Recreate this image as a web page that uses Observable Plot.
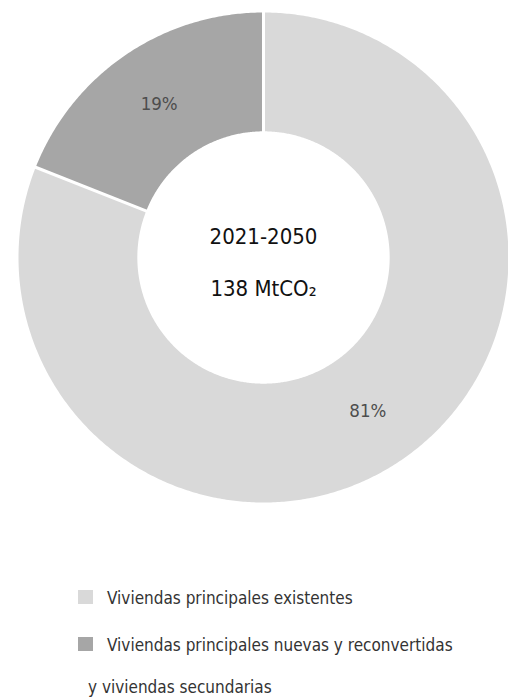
<!DOCTYPE html>
<html>
<head>
<meta charset="utf-8">
<script src="https://cdn.jsdelivr.net/npm/d3@7"></script>
<script src="https://cdn.jsdelivr.net/npm/@observablehq/plot@0.6"></script>
<style>
  html, body { margin: 0; padding: 0; background: #fff; }
  #wrap { position: relative; width: 508px; height: 697px; overflow: hidden;
    font-family: "Liberation Sans Narrow", "Arial Narrow", "DejaVu Sans Condensed", sans-serif; }
  #chart { position: absolute; left: 0; top: 0; }
  .row { position: absolute; font-size: 17px; line-height: 20px; color: #333; white-space: nowrap; }
  .sw { position: absolute; width: 15px; height: 14px; }
</style>
</head>
<body>
<div id="wrap">
  <div id="chart"></div>
  <div id="legend"></div>
</div>
<script>
// ---- data ----
const categories = ["Viviendas principales existentes", "Viviendas principales nuevas y reconvertidas y viviendas secundarias"];
const shares = [81, 19];
const percentLabels = ["81%", "19%"];
const centerLines = ["2021-2050", "138 MtCO₂"];
const colors = ["#d9d9d9", "#a6a6a6"];
const legendLines = ["Viviendas principales existentes", "Viviendas principales nuevas y reconvertidas", "y viviendas secundarias"];

// ---- geometry (computed from data) ----
const inner = 0.515; // ring inner radius relative to outer
const total = d3.sum(shares);
const slices = [];
let acc = 0;
shares.forEach((v, i) => {
  const a0 = acc / total * 2 * Math.PI;
  acc += v;
  const a1 = acc / total * 2 * Math.PI;
  slices.push({cat: categories[i], label: percentLabels[i], a0, a1});
});
const pt = (r, a) => ({x: r * Math.sin(a), y: r * Math.cos(a)});
const poly = [];
for (const s of slices) {
  const n = Math.max(2, Math.ceil((s.a1 - s.a0) / (Math.PI / 360)));
  for (let k = 0; k <= n; k++) poly.push({cat: s.cat, ...pt(1, s.a0 + (s.a1 - s.a0) * k / n)});
  for (let k = n; k >= 0; k--) poly.push({cat: s.cat, ...pt(inner, s.a0 + (s.a1 - s.a0) * k / n)});
}
const seps = slices.map(s => {
  const p = pt(inner - 0.01, s.a0), q = pt(1.02, s.a0);
  return {x1: p.x, y1: p.y, x2: q.x, y2: q.y};
});
const labelPts = slices.map(s => ({label: s.label, ...pt((1 + inner) / 2, (s.a0 + s.a1) / 2)}));

const chart = Plot.plot({
  width: 508,
  height: 520,
  margin: 0,
  x: {domain: [-1, 1], range: [18, 508], axis: null},
  y: {domain: [-1, 1], range: [502, 12], axis: null},
  color: {domain: categories, range: colors},
  style: {fontFamily: '"Liberation Sans Narrow", "Arial Narrow", "DejaVu Sans Condensed", sans-serif', background: "white"},
  marks: [
    Plot.line(poly, {x: "x", y: "y", z: "cat", fill: "cat", stroke: "none", curve: "linear-closed"}),
    Plot.link(seps, {x1: "x1", y1: "y1", x2: "x2", y2: "y2", stroke: "white", strokeWidth: 3}),
    Plot.text(labelPts, {x: "x", y: "y", text: "label", fontSize: 18.5, fill: "#4d4d4d"}),
    Plot.text([centerLines[0]], {x: () => 0, y: () => 0, text: d => d, fontSize: 22, fill: "#111", dy: -21}),
    Plot.text([centerLines[1]], {x: () => 0, y: () => 0, text: d => d, fontSize: 22, fill: "#111", dy: 31})
  ]
});
document.getElementById("chart").appendChild(chart);

// ---- legend (HTML, below the SVG) ----
const legend = document.getElementById("legend");
const rowsSpec = [
  {text: legendLines[0], color: colors[0], top: 588, left: 107},
  {text: legendLines[1], color: colors[1], top: 635, left: 107},
  {text: legendLines[2], color: null, top: 677, left: 88}
];
for (const r of rowsSpec) {
  if (r.color) {
    const sw = document.createElement("div");
    sw.className = "sw";
    sw.style.left = "78px";
    sw.style.top = (r.top + 2) + "px";
    sw.style.background = r.color;
    legend.appendChild(sw);
  }
  const t = document.createElement("div");
  t.className = "row";
  t.style.left = r.left + "px";
  t.style.top = r.top + "px";
  t.textContent = r.text;
  legend.appendChild(t);
}
</script>
</body>
</html>
